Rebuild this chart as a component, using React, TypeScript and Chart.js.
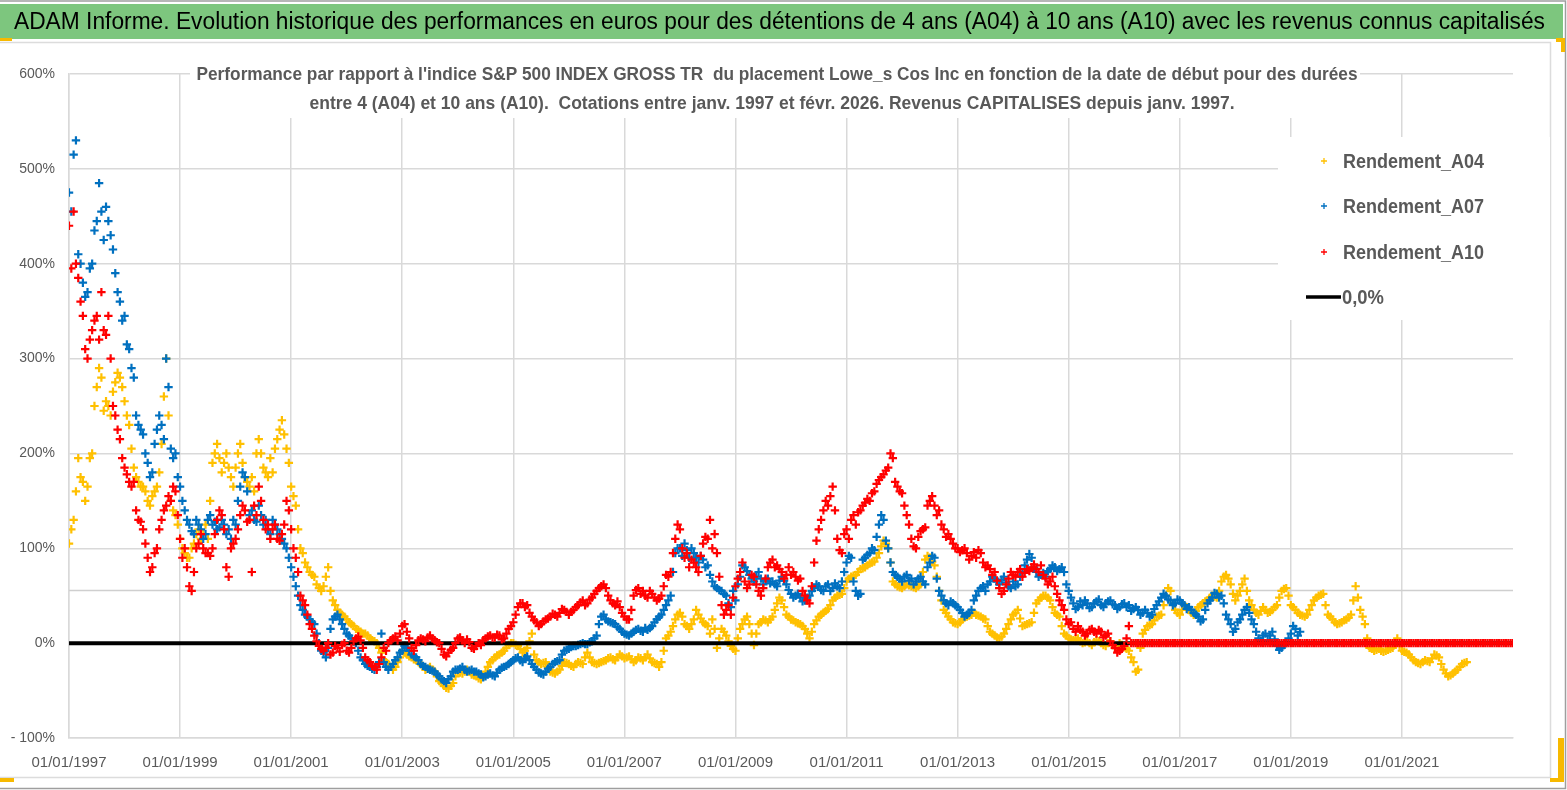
import React, { useEffect, useRef } from "react";
import { Chart, registerables } from "chart.js";

Chart.register(...registerables);

const CANVAS_W = 1567;
const CANVAS_H = 790;
const FONT = "'Liberation Sans', Arial, sans-serif";

const TITLE =
  "ADAM Informe. Evolution historique des performances en euros pour des détentions de 4 ans (A04) à 10 ans (A10) avec les revenus connus capitalisés";
const SUBTITLE_LINES = [
  "Performance par rapport à l'indice S&P 500 INDEX GROSS TR  du placement Lowe_s Cos Inc en fonction de la date de début pour des durées",
  "entre 4 (A04) et 10 ans (A10).  Cotations entre janv. 1997 et févr. 2026. Revenus CAPITALISES depuis janv. 1997.",
];

// samples: 1st and mid of each month, first one = 01/01/1997
const FIRST_YEAR = 1997;
const X_MIN = 1997;
const X_MAX = 2023;
const X_STEP = 2;
const Y_MIN = -100;
const Y_MAX = 600;
const Y_STEP = 100;
const REF_LINE_PCT = 56;

const SERIES_NAMES = ["Rendement_A04", "Rendement_A07", "Rendement_A10"];
const ZERO_NAME = "0,0%";
const SERIES_COLORS = ["#FFC000", "#0070C0", "#FF0000"];

// Rendement_A04 (%), start of each month from 01/1997
const A04 = [
  105, 130, 195, 170, 165, 200, 270, 280, 255, 240, 275, 280,
  255, 230, 185, 170, 165, 150, 155, 165, 210, 300, 150, 135,
  110, 95, 90, 105, 120, 115, 110, 190, 210, 180, 200, 175,
  185, 210, 175, 165, 160, 215, 185, 175, 180, 215, 235, 205,
  165, 145, 100, 85, 75, 70, 58, 60, 80, 45, 35, 30,
  25, 20, 15, 12, 10, 5, 2, -5, -18, -22, -28, -20,
  -8, -12, -15, -18, -22, -28, -25, -30, -40, -45, -48, -42,
  -30, -32, -28, -33, -35, -38, -30, -20, -15, -12, -8, -2,
  0, -3, -10, -5, 10, -18, -22, -20, -30, -32, -28, -20,
  -22, -25, -20, -22, -10, -20, -22, -20, -18, -15, -18, -12,
  -16, -14, -20, -15, -18, -12, -20, -22, -20, 5, 12, 25,
  32, 20, 15, 25, 30, 22, 18, 25, -5, 15, 8, -3,
  -8, 15, 25, 20, -2, 20, 25, 22, 28, 42, 45, 30,
  25, 22, 20, 15, 5, 20, 28, 32, 36, 45, 50, 52,
  65, 70, 72, 78, 80, 84, 86, 95, 108, 100, 65, 60,
  58, 62, 60, 58, 62, 88, 90, 82, 55, 35, 28, 22,
  20, 25, 28, 30, 30, 28, 25, 12, 8, 5, 10, 20,
  30, 35, 18, 20, 22, 42, 48, 50, 45, 32, 28, 10,
  5, 3, 5, 0, 2, -2, 3, 0, -3, 2, -5, 0,
  -4, -8, -20, -28, 10, 18, 20, 28, 30, 50, 55, 35,
  30, 40, 35, 30, 38, 42, 45, 50, 48, 65, 72, 62,
  45, 55, 68, 45, 35, 30, 38, 32, 35, 40, 55, 58,
  40, 35, 30, 28, 35, 45, 50, 52, 30, 25, 20, 22,
  25, 30, 60, 35, 20, -5, -8, -6, -9, -7, -5, 5,
  -8, -10, -15, -20, -22, -18, -20, -12, -15, -28, -35, -32,
  -28, -22, -20,
];
// Rendement_A04 (%), middle of each month
const A04_MID = [
  120, 160, 175, 150, 195, 250, 290, 245, 250, 265, 285, 270,
  240, 205, 175, 165, 160, 145, 160, 180, 260, 240, 140, 125,
  100, 90, 100, 115, 110, 125, 150, 200, 195, 190, 185, 165,
  200, 190, 170, 175, 200, 200, 180, 195, 205, 225, 220, 190,
  155, 120, 95, 80, 72, 62, 55, 70, 55, 40, 32, 28,
  22, 18, 14, 10, 8, 3, 0, -10, -20, -25, -25, -15,
  -10, -14, -17, -20, -25, -27, -28, -35, -42, -47, -45, -35,
  -31, -30, -30, -34, -37, -35, -25, -18, -13, -10, -5, 0,
  -2, -6, -8, 2, -12, -20, -21, -25, -31, -30, -24, -21,
  -24, -22, -21, -15, -15, -21, -21, -19, -16, -17, -15, -14,
  -15, -17, -18, -16, -15, -16, -21, -25, -8, 8, 18, 30,
  28, 18, 20, 35, 26, 20, 10, 15, 5, 12, 2, -6,
  5, 20, 28, 10, 10, 22, 24, 25, 35, 48, 38, 28,
  24, 21, 18, 10, 12, 24, 30, 34, 40, 48, 51, 58,
  68, 71, 75, 79, 82, 85, 90, 102, 105, 85, 62, 59,
  60, 61, 59, 60, 75, 92, 86, 70, 45, 32, 25, 21,
  22, 27, 29, 32, 29, 26, 18, 10, 6, 7, 15, 25,
  32, 26, 19, 21, 32, 45, 50, 48, 38, 30, 18, 8,
  4, 4, 2, 1, 0, 1, 2, -2, 0, -2, -3, -2,
  -6, -15, -30, -5, 14, 19, 24, 29, 40, 58, 42, 32,
  35, 38, 32, 34, 40, 44, 48, 49, 55, 70, 68, 52,
  50, 62, 55, 40, 32, 34, 35, 33, 38, 48, 57, 50,
  38, 32, 29, 30, 40, 48, 51, 40, 28, 22, 21, 24,
  27, 45, 48, 28, 5, -6, -7, -8, -8, -6, 0, -3,
  -9, -12, -18, -21, -20, -19, -16, -13, -22, -32, -34, -30,
  -25, -21,
];

// Rendement_A07 (%), start of each month from 01/1997
const A07 = [
  475, 515, 410, 380, 370, 400, 445, 455, 460, 430, 390, 360,
  345, 310, 280, 230, 220, 190, 180, 225, 230, 300, 205, 200,
  165, 140, 125, 115, 125, 110, 130, 125, 120, 130, 115, 110,
  125, 165, 175, 135, 130, 145, 125, 120, 130, 120, 110, 100,
  80, 60, 40, 30, 25, 20, 0, -10, -5, 25, 30, 20,
  10, 5, 0, -15, -22, -25, -28, -20, -20, -28, -22, -15,
  -8, -5, -12, -15, -22, -25, -28, -30, -35, -40, -38, -30,
  -28, -25, -30, -28, -30, -33, -35, -32, -35, -28, -25, -22,
  -18, -15, -20, -14, -22, -28, -32, -30, -25, -20, -18, -8,
  -6, -3, -2, 0, -1, 2, 8, 28, 25, 22, 20, 15,
  10, 8, 12, 15, 12, 14, 18, 25, 30, 40, 50, 95,
  100, 105, 90, 95, 85, 88, 82, 65, 58, 55, 50, 38,
  45, 70, 80, 72, 65, 75, 62, 68, 65, 60, 70, 62,
  52, 50, 48, 45, 50, 58, 60, 55, 62, 58, 60, 65,
  85, 90, 55, 52, 90, 95, 98, 125, 130, 100, 75, 70,
  65, 72, 68, 65, 70, 62, 85, 90, 55, 45, 40, 42,
  38, 32, 30, 35, 50, 58, 55, 65, 68, 62, 70, 60,
  65, 62, 75, 88, 90, 75, 72, 70, 78, 80, 78, 75,
  55, 42, 38, 40, 42, 38, 44, 40, 42, 45, 40, 38,
  42, 40, 36, 35, 32, 32, 30, 40, 48, 50, 45, 42,
  45, 40, 38, 32, 28, 25, 42, 48, 52, 50, 30, 20,
  15, 25, 35, 32, 20, 5, 8, 3, 12, -3, -5, 0,
  10, 15, 12,
];
// Rendement_A07 (%), middle of each month
const A07_MID = [
  455, 530, 400, 365, 395, 435, 485, 425, 445, 415, 370, 340,
  315, 290, 240, 225, 200, 175, 210, 240, 215, 270, 195, 175,
  150, 130, 118, 130, 120, 115, 135, 128, 122, 125, 120, 130,
  150, 180, 160, 140, 128, 135, 130, 115, 125, 115, 105, 90,
  70, 50, 35, 28, 22, 10, -8, -15, 15, 28, 25, 15,
  8, 2, -8, -18, -24, -27, -25, 10, -25, -25, -18, -10,
  -3, -8, -14, -18, -24, -27, -29, -33, -38, -42, -35, -28,
  -27, -28, -29, -30, -32, -36, -33, -34, -31, -26, -24, -20,
  -16, -18, -16, -18, -25, -31, -33, -27, -22, -19, -12, -7,
  -4, -3, -1, -1, 1, 5, 20, 30, 23, 21, 17, 12,
  9, 10, 14, 13, 16, 16, 22, 28, 35, 45, 75, 100,
  92, 98, 100, 90, 92, 80, 72, 60, 56, 52, 42, 55,
  62, 82, 76, 68, 70, 68, 66, 63, 62, 66, 66, 56,
  48, 52, 44, 48, 55, 62, 56, 60, 55, 63, 58, 75,
  92, 65, 50, 88, 93, 100, 112, 135, 108, 85, 72, 68,
  70, 66, 62, 68, 65, 80, 92, 68, 50, 42, 44, 40,
  35, 28, 32, 45, 55, 60, 62, 70, 65, 67, 64, 58,
  60, 70, 82, 94, 80, 70, 74, 76, 82, 76, 80, 62,
  48, 36, 44, 45, 37, 42, 46, 38, 44, 41, 36, 41,
  38, 34, 38, 30, 35, 28, 36, 44, 52, 46, 40, 46,
  42, 36, 35, 30, 23, 35, 45, 53, 48, 42, 25, 12,
  22, 30, 38, 25, 12, 2, 10, 8, 4, -7, -2, 5,
  18, 8,
];

// Rendement_A10 (%), start of each month from 01/1997
const A10 = [
  440, 455, 385, 345, 300, 330, 345, 370, 325, 300, 240, 215,
  185, 170, 170, 130, 120, 90, 80, 100, 130, 145, 150, 160,
  110, 100, 60, 75, 105, 100, 95, 100, 130, 135, 80, 100,
  110, 135, 140, 130, 145, 165, 130, 125, 120, 110, 115, 150,
  120, 90, 50, 40, 20, 8, -3, -8, 0, -10, -5, -2,
  -8, -5, 5, 3, -15, -20, -25, -22, -5, 0, 5, 3,
  18, 12, -5, -2, 5, 2, 8, 3, 0, -12, -10, -5,
  5, 3, 4, -5, -3, -2, 5, 8, 6, 8, 5, 15,
  22, 38, 42, 40, 28, 22, 20, 25, 28, 30, 32, 35,
  30, 35, 40, 45, 42, 48, 55, 60, 58, 45, 40, 38,
  28, 25, 50, 58, 55, 48, 52, 45, 50, 72, 75, 110,
  120, 90, 80, 85, 75, 105, 110, 100, 95, 40, 35, 30,
  60, 75, 65, 62, 70, 55, 58, 80, 88, 82, 75, 72,
  72, 70, 68, 50, 42, 85, 120, 140, 145, 165, 110, 95,
  120, 130, 125, 140, 148, 150, 160, 172, 178, 185, 195, 165,
  158, 135, 110, 100, 118, 122, 150, 145, 140, 120, 115, 105,
  100, 98, 95, 92, 90, 95, 80, 78, 75, 58, 55, 68,
  72, 75, 70, 78, 80, 78, 82, 68, 65, 60, 45, 35,
  20, 15, 18, 12, 10, 15, 10, 12, 8, 2, -5, -8,
  -3, 18, 0, 0, 0, 0, 0, 0, 0, 0, 0, 0,
  0, 0, 0, 0, 0, 0, 0, 0, 0, 0, 0, 0,
  0, 0, 0, 0, 0, 0, 0, 0, 0, 0, 0, 0,
  0, 0, 0, 0, 0, 0, 0, 0, 0, 0, 0, 0,
  0, 0, 0, 0, 0, 0, 0, 0, 0, 0, 0, 0,
  0, 0, 0, 0, 0, 0, 0, 0, 0, 0, 0, 0,
  0, 0, 0, 0, 0, 0, 0, 0, 0, 0, 0, 0,
  0,
];
// Rendement_A10 (%), middle of each month
const A10_MID = [
  395, 400, 360, 310, 320, 340, 320, 330, 345, 250, 225, 195,
  178, 165, 140, 128, 105, 75, 95, 120, 140, 155, 165, 135,
  90, 80, 55, 100, 115, 95, 92, 115, 140, 120, 70, 105,
  120, 145, 128, 75, 135, 150, 120, 110, 125, 108, 125, 140,
  100, 75, 45, 30, 15, 2, -6, -5, -12, -3, -9, 0,
  -10, 2, 7, -5, -18, -24, -28, -15, -8, 3, 7, 10,
  20, 5, -8, 3, 4, 6, 5, 1, -6, -14, -7, 0,
  6, 0, 1, -6, 0, 3, 7, 6, 9, 4, 10, 18,
  30, 42, 38, 32, 24, 18, 23, 26, 31, 28, 36, 33,
  33, 38, 43, 40, 46, 52, 58, 62, 50, 42, 44, 32,
  25, 35, 56, 52, 50, 55, 48, 47, 60, 70, 95, 125,
  100, 95, 88, 80, 92, 112, 130, 115, 70, 30, 40, 48,
  68, 85, 58, 72, 62, 50, 68, 85, 80, 78, 68, 80,
  75, 66, 55, 45, 60, 108, 130, 150, 155, 140, 98, 115,
  110, 135, 138, 145, 152, 158, 168, 175, 182, 200, 170, 160,
  145, 125, 102, 112, 120, 145, 155, 135, 125, 112, 110, 100,
  96, 100, 88, 96, 98, 85, 82, 72, 66, 52, 62, 75,
  70, 78, 74, 76, 83, 75, 72, 62, 70, 52, 40, 25,
  22, 12, 14, 8, 14, 12, 14, 6, 10, -2, -10, -6,
  5, 0, 0, 0, 0, 0, 0, 0, 0, 0, 0, 0,
  0, 0, 0, 0, 0, 0, 0, 0, 0, 0, 0, 0,
  0, 0, 0, 0, 0, 0, 0, 0, 0, 0, 0, 0,
  0, 0, 0, 0, 0, 0, 0, 0, 0, 0, 0, 0,
  0, 0, 0, 0, 0, 0, 0, 0, 0, 0, 0, 0,
  0, 0, 0, 0, 0, 0, 0, 0, 0, 0, 0, 0,
  0, 0, 0, 0, 0, 0, 0, 0, 0, 0, 0, 0,
];

const ZERO_LINE_X = [X_MIN, X_MAX];
const ZERO_LINE_Y = [0, 0];

const toPoints = (start: number[], mid: number[]) => {
  const pts: { x: number; y: number }[] = [];
  start.forEach((v, i) => {
    pts.push({ x: FIRST_YEAR + i / 12, y: v });
    if (i < mid.length) pts.push({ x: FIRST_YEAR + (i + 0.5) / 12, y: mid[i] });
  });
  return pts;
};

function fitText(
  ctx: CanvasRenderingContext2D,
  text: string,
  x: number,
  cy: number,
  width: number,
  font: string,
  color: string,
  align: CanvasTextAlign = "center"
) {
  ctx.save();
  ctx.font = font;
  ctx.fillStyle = color;
  ctx.textAlign = align;
  ctx.textBaseline = "middle";
  const w = ctx.measureText(text).width;
  ctx.translate(x, cy);
  ctx.scale(width / w, 1);
  ctx.fillText(text, 0, 0);
  ctx.restore();
}

const decorPlugin = {
  id: "decor",
  beforeDraw(chart: any) {
    const ctx: CanvasRenderingContext2D = chart.ctx;
    ctx.save();
    ctx.fillStyle = "#ffffff";
    ctx.fillRect(0, 0, CANVAS_W, CANVAS_H);
    ctx.strokeStyle = "#dcdcdc";
    ctx.lineWidth = 1.5;
    ctx.beginPath();
    ctx.moveTo(0, 42.5);
    ctx.lineTo(1550.5, 42.5);
    ctx.lineTo(1550.5, 777.5);
    ctx.lineTo(0, 777.5);
    ctx.stroke();
    ctx.strokeStyle = "#9e9e9e";
    ctx.lineWidth = 1.5;
    ctx.beginPath();
    ctx.moveTo(0, 1);
    ctx.lineTo(1565.5, 1);
    ctx.lineTo(1565.5, 788.5);
    ctx.lineTo(0, 788.5);
    ctx.stroke();
    ctx.fillStyle = "#7dc67e";
    ctx.fillRect(0, 4, 1563, 35);
    ctx.fillStyle = "#f7b900";
    ctx.fillRect(0, 38, 12, 3);
    ctx.fillRect(1556, 38, 9, 4);
    ctx.fillRect(1561, 38, 4, 14);
    ctx.fillRect(0, 778, 14, 4);
    ctx.fillRect(1558, 738, 6, 44);
    ctx.fillRect(1550, 778, 14, 4);
    ctx.restore();
    fitText(ctx, TITLE, 779.5, 23, 1531, `23px ${FONT}`, "#000000");
  },
  beforeDatasetsDraw(chart: any) {
    const ctx: CanvasRenderingContext2D = chart.ctx;
    const { left, right } = chart.chartArea;
    const y = chart.scales.y.getPixelForValue(REF_LINE_PCT);
    ctx.save();
    ctx.strokeStyle = "#cfcfcf";
    ctx.lineWidth = 1.5;
    ctx.beginPath();
    ctx.moveTo(left, Math.round(y) + 0.5);
    ctx.lineTo(right, Math.round(y) + 0.5);
    ctx.stroke();
    ctx.restore();
  },
  afterDraw(chart: any) {
    const ctx: CanvasRenderingContext2D = chart.ctx;
    ctx.save();
    ctx.fillStyle = "#ffffff";
    ctx.fillRect(190, 58, 1170, 60);
    ctx.restore();
    fitText(ctx, SUBTITLE_LINES[0], 777, 75, 1161, `bold 19px ${FONT}`, "#595959");
    fitText(ctx, SUBTITLE_LINES[1], 772, 104, 925, `bold 19px ${FONT}`, "#595959");

    ctx.save();
    ctx.fillStyle = "#ffffff";
    ctx.fillRect(1278, 137, 272, 183);
    ctx.restore();
    const rows = [161, 206, 252, 297];
    const ds = chart.data.datasets;
    for (let i = 0; i < ds.length; i++) {
      const y = rows[i];
      const d = ds[i];
      ctx.save();
      if (d.type === "line") {
        ctx.strokeStyle = d.borderColor;
        ctx.lineWidth = 3.5;
        ctx.beginPath();
        ctx.moveTo(1306, y);
        ctx.lineTo(1341, y);
        ctx.stroke();
        ctx.restore();
        fitText(ctx, d.label, 1342, y + 1, 42, `bold 20px ${FONT}`, "#595959", "left");
      } else {
        ctx.strokeStyle = d.borderColor;
        ctx.lineWidth = 1.3;
        ctx.beginPath();
        ctx.moveTo(1321, y);
        ctx.lineTo(1327, y);
        ctx.moveTo(1324, y - 3);
        ctx.lineTo(1324, y + 3);
        ctx.stroke();
        ctx.restore();
        fitText(ctx, d.label, 1343, y + 1, 141, `bold 20px ${FONT}`, "#595959", "left");
      }
    }
  },
};

export default function App() {
  const canvasRef = useRef<HTMLCanvasElement | null>(null);

  useEffect(() => {
    if (!canvasRef.current) return;
    const pairs = [
      [A04, A04_MID],
      [A07, A07_MID],
      [A10, A10_MID],
    ];
    const scatterDs = pairs.map(([start, mid], k) => ({
      type: "scatter" as const,
      label: SERIES_NAMES[k],
      data: toPoints(start, mid),
      showLine: false,
      pointStyle: "cross" as const,
      pointRadius: 4.2,
      pointHoverRadius: 4.2,
      borderWidth: 2.2,
      borderColor: SERIES_COLORS[k],
      backgroundColor: SERIES_COLORS[k],
      order: k === 0 ? 4 : k === 1 ? 3 : 1,
    }));
    const zeroDs = {
      type: "line" as const,
      label: ZERO_NAME,
      data: ZERO_LINE_X.map((x, i) => ({ x, y: ZERO_LINE_Y[i] })),
      borderColor: "#000000",
      backgroundColor: "#000000",
      borderWidth: 4,
      pointRadius: 0,
      order: 2,
    };
    const chart = new Chart(canvasRef.current, {
      type: "scatter",
      data: { datasets: [...scatterDs, zeroDs] as any },
      options: {
        responsive: false,
        animation: false,
        events: [],
        layout: { padding: { left: 0, top: 74, right: 54, bottom: 0 } },
        plugins: {
          legend: { display: false },
          title: { display: false },
          tooltip: { enabled: false },
        },
        scales: {
          x: {
            type: "linear",
            min: X_MIN,
            max: X_MAX,
            afterFit: (s: any) => {
              s.height = 52;
            },
            ticks: {
              stepSize: X_STEP,
              autoSkip: false,
              maxRotation: 0,
              minRotation: 0,
              padding: 16,
              color: "#595959",
              font: { family: FONT, size: 15 },
              callback: (v: any) => (v === X_MAX ? "" : `01/01/${v}`),
            },
            grid: {
              drawTicks: false,
              color: (c: any) =>
                c.tick && c.tick.value === X_MAX ? "rgba(0,0,0,0)" : "#d9d9d9",
              lineWidth: 1.5,
            },
            border: { display: true, color: "#d9d9d9", width: 1.5 },
          },
          y: {
            type: "linear",
            min: Y_MIN,
            max: Y_MAX,
            afterFit: (s: any) => {
              s.width = 69;
            },
            ticks: {
              stepSize: Y_STEP,
              padding: 14,
              color: "#595959",
              font: { family: FONT, size: 14 },
              callback: (v: any) => (v < 0 ? `- ${-v}%` : `${v}%`),
            },
            grid: { drawTicks: false, color: "#d9d9d9", lineWidth: 1.5 },
            border: { display: true, color: "#d9d9d9", width: 1.5 },
          },
        },
      },
      plugins: [decorPlugin],
    });
    return () => chart.destroy();
  }, []);

  return (
    <div
      style={{
        position: "fixed",
        left: 0,
        top: 0,
        width: CANVAS_W,
        height: CANVAS_H,
        background: "#ffffff",
      }}
    >
      <canvas
        ref={canvasRef}
        width={CANVAS_W}
        height={CANVAS_H}
        style={{ display: "block", width: CANVAS_W, height: CANVAS_H }}
      />
    </div>
  );
}
